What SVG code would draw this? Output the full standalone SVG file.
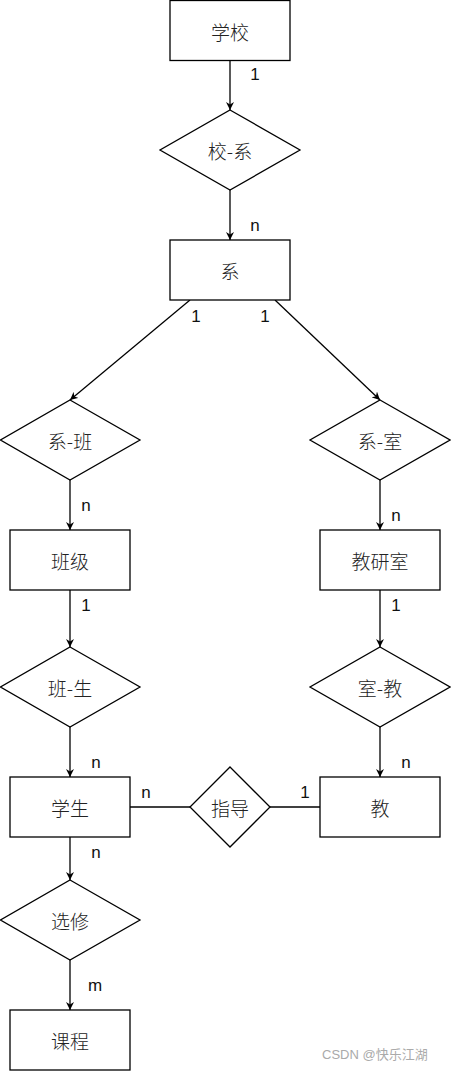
<svg xmlns="http://www.w3.org/2000/svg" width="451" height="1071" viewBox="0 0 451 1071">
<style>
.box{fill:#fff;stroke:#000;stroke-width:1.3}
.t{font-family:"Noto Sans CJK SC","Liberation Sans",sans-serif;font-size:19px;font-weight:300;fill:#222;text-anchor:middle;dominant-baseline:central}
.c{stroke:#000;stroke-width:1.3;fill:none}
.lbl{font-family:"Liberation Sans",Arial,sans-serif;font-size:17px;fill:#111;text-anchor:middle}
.wm{font-family:"Liberation Sans","Noto Sans CJK SC",sans-serif;font-size:13px;fill:#aaa}
</style>
<defs>
<marker id="arr" viewBox="0 0 10 10" refX="10" refY="5" markerWidth="8" markerHeight="8" markerUnits="userSpaceOnUse" orient="auto">
<path d="M0,0 L10,5 L0,10 L3,5 Z" fill="#000"/>
</marker>
</defs>
<rect width="451" height="1071" fill="#fff"/>
<g id="connectors">
<line class="c" x1="230" y1="60" x2="230" y2="110" marker-end="url(#arr)"/>
<line class="c" x1="230" y1="190" x2="230" y2="240" marker-end="url(#arr)"/>
<line class="c" x1="190" y1="300" x2="70" y2="400" marker-end="url(#arr)"/>
<line class="c" x1="275" y1="300" x2="380" y2="400" marker-end="url(#arr)"/>
<line class="c" x1="70" y1="480" x2="70" y2="530" marker-end="url(#arr)"/>
<line class="c" x1="380" y1="480" x2="380" y2="530" marker-end="url(#arr)"/>
<line class="c" x1="70" y1="590" x2="70" y2="647" marker-end="url(#arr)"/>
<line class="c" x1="380" y1="590" x2="380" y2="647" marker-end="url(#arr)"/>
<line class="c" x1="70" y1="727" x2="70" y2="777" marker-end="url(#arr)"/>
<line class="c" x1="380" y1="727" x2="380" y2="777" marker-end="url(#arr)"/>
<line class="c" x1="130" y1="807" x2="190" y2="807" stroke="#555"/>
<line class="c" x1="270" y1="807" x2="320" y2="807"/>
<line class="c" x1="70" y1="837" x2="70" y2="880" marker-end="url(#arr)"/>
<line class="c" x1="70" y1="960" x2="70" y2="1010" marker-end="url(#arr)"/>
<text class="lbl" x="255" y="80">1</text>
<text class="lbl" x="255" y="231">n</text>
<text class="lbl" x="196" y="322">1</text>
<text class="lbl" x="265" y="322">1</text>
<text class="lbl" x="86" y="511">n</text>
<text class="lbl" x="396" y="521">n</text>
<text class="lbl" x="86" y="611">1</text>
<text class="lbl" x="396" y="611">1</text>
<text class="lbl" x="96" y="768">n</text>
<text class="lbl" x="406" y="768">n</text>
<text class="lbl" x="146" y="798">n</text>
<text class="lbl" x="305" y="798">1</text>
<text class="lbl" x="96" y="858">n</text>
<text class="lbl" x="95" y="991">m</text>
</g>
<g id="n-school"><rect class="box" x="170" y="0.5" width="120" height="60"/><text class="t" x="230" y="31">学校</text></g>
<g id="n-xiaoxi"><polygon class="box" points="230,110 300,150 230,190 160,150"/><text class="t" x="230" y="150">校-系</text></g>
<g id="n-xi"><rect class="box" x="170" y="240" width="120" height="60"/><text class="t" x="230" y="270">系</text></g>
<g id="n-xiban"><polygon class="box" points="70,400 140,440 70,480 0.5,440"/><text class="t" x="70" y="440">系-班</text></g>
<g id="n-xishi"><polygon class="box" points="380,400 450,440 380,480 310,440"/><text class="t" x="380" y="440">系-室</text></g>
<g id="n-banji"><rect class="box" x="10" y="530" width="120" height="60"/><text class="t" x="70" y="560">班级</text></g>
<g id="n-jys"><rect class="box" x="320" y="530" width="120" height="60"/><text class="t" x="380" y="560">教研室</text></g>
<g id="n-bansheng"><polygon class="box" points="70,647 140,687 70,727 0.5,687"/><text class="t" x="70" y="687">班-生</text></g>
<g id="n-shijiao"><polygon class="box" points="380,647 450,687 380,727 310,687"/><text class="t" x="380" y="687">室-教</text></g>
<g id="n-student"><rect class="box" x="10" y="777" width="120" height="60"/><text class="t" x="70" y="807">学生</text></g>
<g id="n-zhidao"><polygon class="box" points="230,767 270,807 230,847 190,807"/><text class="t" x="230" y="807">指导</text></g>
<g id="n-teacher"><rect class="box" x="320" y="777" width="120" height="60"/><text class="t" x="380" y="807">教</text></g>
<g id="n-xuanxiu"><polygon class="box" points="70,880 140,920 70,960 0.5,920"/><text class="t" x="70" y="920">选修</text></g>
<g id="n-course"><rect class="box" x="10" y="1010" width="120" height="60"/><text class="t" x="70" y="1040">课程</text></g>
<text class="wm" x="322" y="1059">CSDN @快乐江湖</text>
</svg>
